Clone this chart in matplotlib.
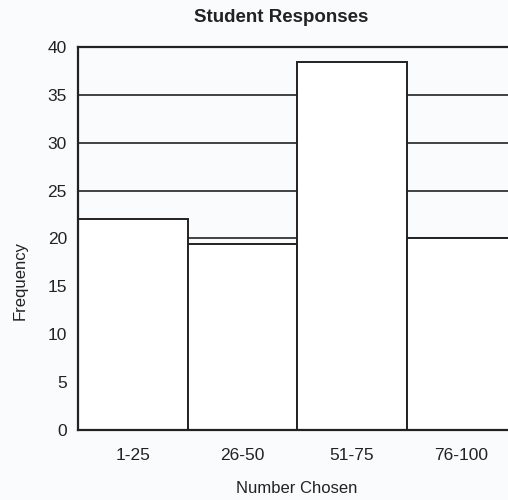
import matplotlib.pyplot as plt
import numpy as np

# data to plot
categories = ['1-25', '26-50', '51-75', '76-100']
frequency = [22, 19.4, 38.4, 20]

plt.rcParams['font.family'] = ['Liberation Sans', 'DejaVu Sans']

fig = plt.figure(figsize=(5.08, 5.0), dpi=100, facecolor='#fafbfc')
# axes runs off the right edge, like the scanned page
ax = fig.add_axes([78 / 508, 70 / 500, 438 / 508, 383 / 500])
ax.set_facecolor('#fafbfc')

index = np.arange(len(categories))
ax.bar(index, frequency, width=1.0, color='white', edgecolor='#222222',
       linewidth=1.4, zorder=3)

ax.set_xlim(-0.5, 3.5)
ax.set_ylim(0, 40)
ax.set_yticks(np.arange(0, 41, 5))
ax.set_xticks(index)
ax.set_xticklabels(categories)
ax.yaxis.grid(True, color='#222222', linewidth=1.2, zorder=1)
ax.tick_params(length=0, labelsize=12.5, colors='#222222', pad=8)
ax.tick_params(axis='x', pad=13)
for s in ax.spines.values():
    s.set_color('#222222')
    s.set_linewidth(1.6)
    s.set_zorder(4)

ax.set_xlabel('Number Chosen', fontsize=12, color='#222222', labelpad=13)
fig.text(20 / 508, 1 - 280 / 500, 'Frequency', rotation=90, fontsize=12,
         color='#222222', ha='center', va='center')
fig.text(281 / 508, 1 - 18 / 500, 'Student Responses', fontsize=13.5,
         fontweight='bold', color='#222222', ha='center', va='center')

fig.savefig('out.png', dpi=100, facecolor=fig.get_facecolor())
